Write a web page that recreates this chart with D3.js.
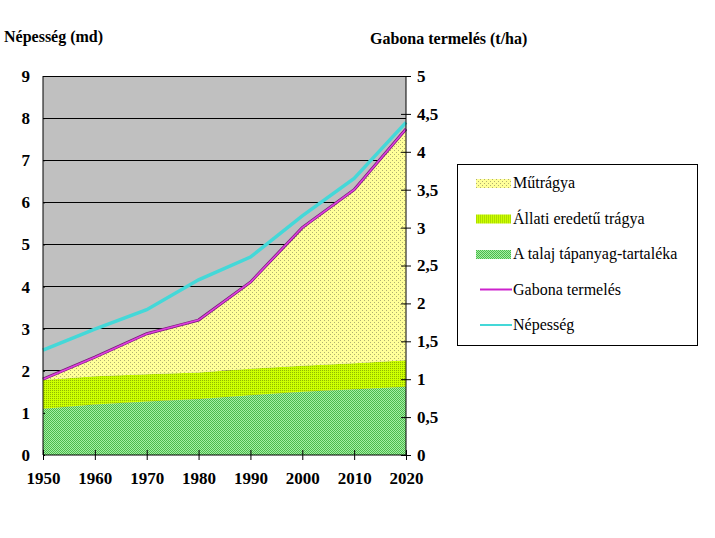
<!DOCTYPE html>
<html><head><meta charset="utf-8">
<script src="https://cdn.jsdelivr.net/npm/d3@7"></script>
<style>body{margin:0;background:#fff;} svg{display:block;}</style>
</head><body>
<svg id="c" width="715" height="538"></svg>
<script>
const years = [1950, 1960, 1970, 1980, 1990, 2000, 2010, 2020];
// stacked layers (left axis units, thickness)
const talaj = [1.10, 1.20, 1.27, 1.33, 1.42, 1.50, 1.56, 1.62];
const allati = [0.68, 0.67, 0.65, 0.63, 0.63, 0.62, 0.62, 0.63];
const mutragya = [0.02, 0.46, 0.96, 1.24, 2.05, 3.28, 4.12, 5.49];
// lines
const gabona = [1.00, 1.29, 1.60, 1.78, 2.28, 3.00, 3.50, 4.30]; // right axis t/ha
const nepesseg = [2.49, 2.99, 3.45, 4.16, 4.70, 5.68, 6.57, 7.90]; // left axis md
const leftTicks = [0,1,2,3,4,5,6,7,8,9];
const rightTicks = [0,0.5,1,1.5,2,2.5,3,3.5,4,4.5,5];
const legendItems = [
  {name:"Műtrágya", type:"area", fill:"url(#pY)"},
  {name:"Állati eredetű trágya", type:"area", fill:"url(#pYG)"},
  {name:"A talaj tápanyag-tartaléka", type:"area", fill:"url(#pG)"},
  {name:"Gabona termelés", type:"line", color:"#cc22cc"},
  {name:"Népesség", type:"line", color:"#44d8d8"}
];

const FONT = '"Liberation Serif"';
const svg = d3.select("#c");
const defs = svg.append("defs");
function pat(id, size, base, dots){
  const p = defs.append("pattern").attr("id",id).attr("patternUnits","userSpaceOnUse")
    .attr("width",size).attr("height",size);
  p.append("rect").attr("width",size).attr("height",size).attr("fill",base);
  dots.forEach(d=>p.append("rect").attr("x",d[0]).attr("y",d[1]).attr("width",1).attr("height",1).attr("fill",d[2]));
}
pat("pG", 2, "#a4f0a4", [[0,0,"#4cb84c"],[1,1,"#4cb84c"]]);
pat("pYG", 2, "#ccff00", [[0,0,"#90b800"]]);
pat("pY", 4, "#ffff99", [[0,0,"#b0b070"],[2,2,"#b0b070"]]);

const x = d3.scaleLinear().domain([1950,2020]).range([43,406]);
const yL = d3.scaleLinear().domain([0,9]).range([455,76]);
const yR = d3.scaleLinear().domain([0,5]).range([455,76]);

// background
svg.append("rect").attr("x",x(1950)).attr("y",yL(9)).attr("width",x(2020)-x(1950)).attr("height",yL(0)-yL(9)).attr("fill","#c0c0c0");

// gridlines
svg.append("g").selectAll("line").data(leftTicks.filter(d=>d>0)).join("line")
  .attr("x1",x(1950)).attr("x2",x(2020)).attr("y1",d=>yL(d)).attr("y2",d=>yL(d))
  .attr("stroke","#000").attr("stroke-width",1).attr("shape-rendering","crispEdges");

// stacked areas
const rows = years.map((yr,i)=>({year:yr, talaj:talaj[i], allati:allati[i], mutragya:mutragya[i]}));
const stack = d3.stack().keys(["talaj","allati","mutragya"])(rows);
const fills = {talaj:"url(#pG)", allati:"url(#pYG)", mutragya:"url(#pY)"};
const area = d3.area().x(d=>x(d.data.year)).y0(d=>yL(d[0])).y1(d=>yL(d[1]));
svg.append("g").selectAll("path").data(stack).join("path")
  .attr("d",area).attr("fill",s=>fills[s.key]);

// lines
const lineG = d3.line().x((d,i)=>x(years[i])).y(d=>yR(d));
const lineN = d3.line().x((d,i)=>x(years[i])).y(d=>yL(d));
svg.append("path").attr("d",lineN(nepesseg)).attr("fill","none").attr("stroke","#44d8d8").attr("stroke-width",3.5);
svg.append("path").attr("d",lineG(gabona)).attr("fill","none").attr("stroke","#7a1a7a").attr("stroke-width",3);
svg.append("path").attr("d",lineG(gabona)).attr("fill","none").attr("stroke","#e040e0").attr("stroke-width",1.5);

// axes
const axL = svg.append("g").attr("transform",`translate(${x(1950)},0)`)
  .call(d3.axisLeft(yL).tickValues(leftTicks).tickSize(6).tickPadding(7).tickFormat(d3.format("d")));
const axR = svg.append("g").attr("transform",`translate(${x(2020)},0)`)
  .call(d3.axisRight(yR).tickValues(rightTicks).tickSize(5).tickPadding(6).tickFormat(d=>String(d).replace(".",",")));
const axB = svg.append("g").attr("transform",`translate(0,${yL(0)})`)
  .call(d3.axisBottom(x).tickValues(years).tickSize(5).tickPadding(12).tickFormat(d3.format("d")));
axB.selectAll(".tick line").attr("y1",-5);
axR.selectAll(".tick line").attr("x1",-5);
axL.selectAll(".tick line").attr("x2",2);
[axL,axR,axB].forEach(a=>{
  a.select(".domain").attr("stroke","#000").attr("stroke-width",1);
  a.selectAll(".tick line").attr("stroke","#000");
  a.selectAll("text").style("font-family",FONT).style("font-size","17px").style("font-weight","bold").attr("fill","#000");
});
axL.select(".domain").attr("d",`M0,${yL(0)}V${yL(9)}`);
axR.select(".domain").attr("d",`M0,${yR(0)}V${yR(5)}`);
axB.select(".domain").attr("d",`M${x(1950)},0H${x(2020)}`);

// titles
svg.append("text").attr("x",4).attr("y",42).text("Népesség (md)")
  .style("font-family",FONT).style("font-size","16px").style("font-weight","bold");
svg.append("text").attr("x",370).attr("y",44).text("Gabona termelés (t/ha)")
  .style("font-family",FONT).style("font-size","16px").style("font-weight","bold");

// legend
svg.append("rect").attr("x",457.5).attr("y",164.5).attr("width",240).attr("height",181)
  .attr("fill","#fff").attr("stroke","#000").attr("stroke-width",1);
const lg = svg.append("g").selectAll("g").data(legendItems).join("g")
  .attr("transform",(d,i)=>`translate(476,${183+i*35.5})`);
lg.filter(d=>d.type==="area").append("rect").attr("x",0).attr("y",-4).attr("width",35).attr("height",9).attr("fill",d=>d.fill);
lg.filter(d=>d.type==="line").append("line").attr("x1",4).attr("x2",36).attr("y1",0).attr("y2",0)
  .attr("stroke",d=>d.color).attr("stroke-width",2);
lg.append("text").attr("x",37).attr("y",5).text(d=>d.name)
  .style("font-family",FONT).style("font-size","16px");
</script>
</body></html>
